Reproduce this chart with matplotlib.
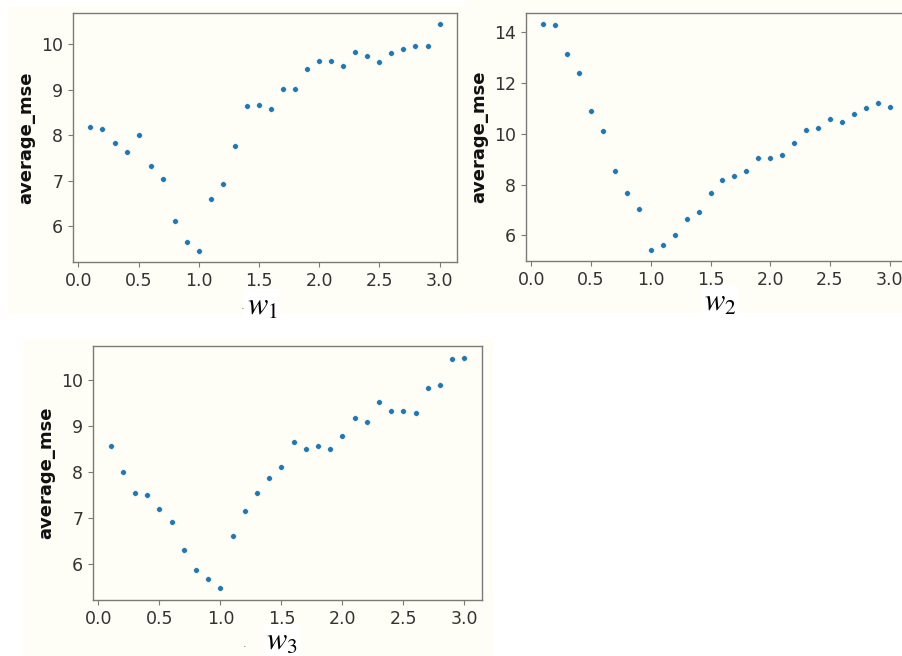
import matplotlib
matplotlib.use("Agg")
import matplotlib.pyplot as plt
from matplotlib.patches import Rectangle

W, H = 903, 656

w_values = [0.1, 0.2, 0.3, 0.4, 0.5, 0.6, 0.7, 0.8, 0.9, 1.0,
            1.1, 1.2, 1.3, 1.4, 1.5, 1.6, 1.7, 1.8, 1.9, 2.0,
            2.1, 2.2, 2.3, 2.4, 2.5, 2.6, 2.7, 2.8, 2.9, 3.0]

mse_w1 = [8.17, 8.14, 7.84, 7.63, 8.01, 7.33, 7.05, 6.12, 5.67, 5.47,
          6.60, 6.93, 7.77, 8.64, 8.67, 8.57, 9.02, 9.02, 9.45, 9.63,
          9.63, 9.52, 9.83, 9.73, 9.60, 9.80, 9.88, 9.96, 9.96, 10.43]

mse_w2 = [14.31, 14.27, 13.15, 12.39, 10.91, 10.10, 8.53, 7.68, 7.05, 5.44,
          5.61, 6.02, 6.64, 6.92, 7.68, 8.18, 8.35, 8.53, 9.03, 9.03,
          9.16, 9.65, 10.15, 10.24, 10.60, 10.45, 10.78, 11.00, 11.23, 11.06]

mse_w3 = [8.57, 7.99, 7.55, 7.50, 7.19, 6.91, 6.31, 5.88, 5.67, 5.47,
          6.61, 7.15, 7.55, 7.86, 8.11, 8.65, 8.49, 8.57, 8.49, 8.77,
          9.16, 9.08, 9.51, 9.33, 9.33, 9.28, 9.82, 9.89, 10.45, 10.48]

x_ticks = [0.0, 0.5, 1.0, 1.5, 2.0, 2.5, 3.0]
y_label = "average_mse"
x_labels = [r"$w_1$", r"$w_2$", r"$w_3$"]

IVORY = "#fefef6"
SPINE = "#7a7a7a"
TEXT = "#333333"

plt.rcParams["mathtext.fontset"] = "stix"

fig = plt.figure(figsize=(W / 100, H / 100), dpi=100)
fig.patch.set_facecolor("white")


def px_rect(x0, y0, x1, y1):
    return [x0 / W, 1 - y1 / H, (x1 - x0) / W, (y1 - y0) / H]


# panel backgrounds (screenshot-like ivory tiles)
for (x0, y0, x1, y1) in [(8, 6, 465, 314), (465, 0, 903, 313), (23, 339, 493, 656)]:
    l, b, w, h = px_rect(x0, y0, x1, y1)
    fig.patches.append(Rectangle((l, b), w, h, transform=fig.transFigure,
                                 facecolor=IVORY, edgecolor="none", zorder=-5))

axes_px = [(73, 13, 457, 262), (526, 13, 907, 261), (93, 346, 482, 600)]
series = [mse_w1, mse_w2, mse_w3]
label_pos = [(262, 306), (720, 302), (282, 641)]
dot_pos = [(243, 309), None, (245, 647)]

for i, ((x0, y0, x1, y1), ys) in enumerate(zip(axes_px, series)):
    ax = fig.add_axes(px_rect(x0, y0, x1, y1))
    ax.set_facecolor(IVORY)
    ax.scatter(w_values, ys, s=17, color="#1f77b4", edgecolor="white",
               linewidth=0.4, zorder=3)
    ax.set_xticks(x_ticks)
    ax.set_xlim(-0.045, 3.145)
    for sp in ax.spines.values():
        sp.set_color(SPINE)
        sp.set_linewidth(1.0)
    ax.tick_params(colors=SPINE, labelcolor=TEXT, labelsize=12.5, length=3.5)
    ax.set_ylabel(y_label, fontsize=13, fontweight="bold", color="#111111")
    lx, ly = label_pos[i]
    fig.text(lx / W, 1 - ly / H, x_labels[i], fontsize=22, ha="center",
             va="center", color="black",
             bbox=dict(facecolor="white", edgecolor="none", pad=1.5))
    if dot_pos[i] is not None:
        dx, dy = dot_pos[i]
        fig.text(dx / W, 1 - dy / H, "\u00b7", fontsize=8, ha="center",
                 va="center", color="#666666")

fig.savefig("out.png", dpi=100, facecolor="white")
